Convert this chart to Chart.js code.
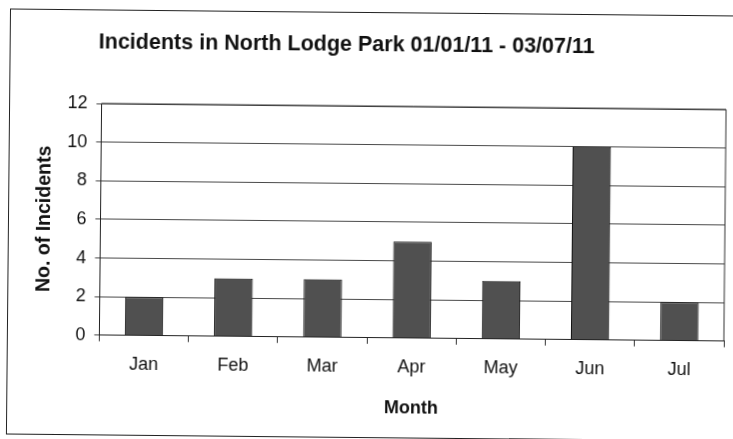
<!DOCTYPE html>
<html>
<head>
<meta charset="utf-8">
<script src="https://cdn.jsdelivr.net/npm/chart.js@4.4.0/dist/chart.umd.min.js"></script>
<style>
  html, body { margin: 0; padding: 0; background: #fff; overflow: hidden; }
  #wrap { position: absolute; left: 0; top: 0; width: 733px; height: 439px; transform: rotate(0.55deg); }
  #frame { position: absolute; left: 8px; top: 12px; width: 760px; height: 424px; border: 1px solid #222; }
  canvas { position: absolute; left: 0; top: 0; }
</style>
</head>
<body>
<div id="wrap">
  <div id="frame"></div>
  <canvas id="myChart" width="733" height="439"></canvas>
</div>
<script>
const chartTitle = 'Incidents in North Lodge Park 01/01/11 - 03/07/11'
const months = ['Jan', 'Feb', 'Mar', 'Apr', 'May', 'Jun', 'Jul']
const incidents = [2, 3, 3, 5, 3, 10, 2]
const yTicks = [0, 2, 4, 6, 8, 10, 12]

const FONT = '"Liberation Sans", Arial, sans-serif'

// title sits off-centre in the scan, so draw it ourselves
const fixedTitle = {
    id: 'fixedTitle',
    afterDraw(chart) {
        const c = chart.ctx
        c.save()
        c.font = 'bold 21.5px ' + FONT
        c.fillStyle = '#111'
        c.textAlign = 'center'
        c.textBaseline = 'middle'
        c.fillText(chartTitle, 345, 45)
        c.restore()
    }
}

// box round the plot area
const plotFrame = {
    id: 'plotFrame',
    afterDatasetsDraw(chart) {
        const a = chart.chartArea
        const c = chart.ctx
        c.save()
        c.strokeStyle = '#333'
        c.lineWidth = 1
        c.beginPath()
        c.moveTo(a.left, a.top)
        c.lineTo(a.right, a.top)
        c.lineTo(a.right, a.bottom)
        c.stroke()
        c.restore()
    }
}

var ctx = document.getElementById('myChart')
var myChart = new Chart(ctx, {
    type: 'bar',
    data: {
        labels: months,
        datasets: [{
            label: 'Incidents',
            data: incidents,
            backgroundColor: '#505050',
            borderColor: '#111',
            borderWidth: 1,
            categoryPercentage: 1,
            barPercentage: 0.43
        }]
    },
    options: {
        responsive: false,
        animation: false,
        layout: { padding: { left: 27, top: 106, right: 8, bottom: 16 } },
        plugins: {
            legend: { display: false },
            tooltip: { enabled: false }
        },
        scales: {
            x: {
                grid: { offset: true, drawOnChartArea: false, tickLength: 6, color: '#333' },
                border: { color: '#222' },
                ticks: { color: '#111', font: { family: FONT, size: 18 }, padding: 12 },
                title: { display: true, text: 'Month', color: '#111',
                         font: { family: FONT, size: 18, weight: 'bold' }, padding: { top: 8, bottom: 4 } }
            },
            y: {
                min: 0,
                max: 12,
                afterBuildTicks: axis => { axis.ticks = yTicks.map(v => ({ value: v })) },
                grid: { color: '#4a4a4a', tickLength: 5 },
                border: { color: '#222' },
                ticks: { color: '#111', font: { family: FONT, size: 18 }, padding: 9 },
                title: { display: true, text: 'No. of Incidents', color: '#111',
                         font: { family: FONT, size: 19.5, weight: 'bold' }, padding: { top: 6, bottom: 1 } }
            }
        }
    },
    plugins: [fixedTitle, plotFrame]
})
</script>
</body>
</html>
